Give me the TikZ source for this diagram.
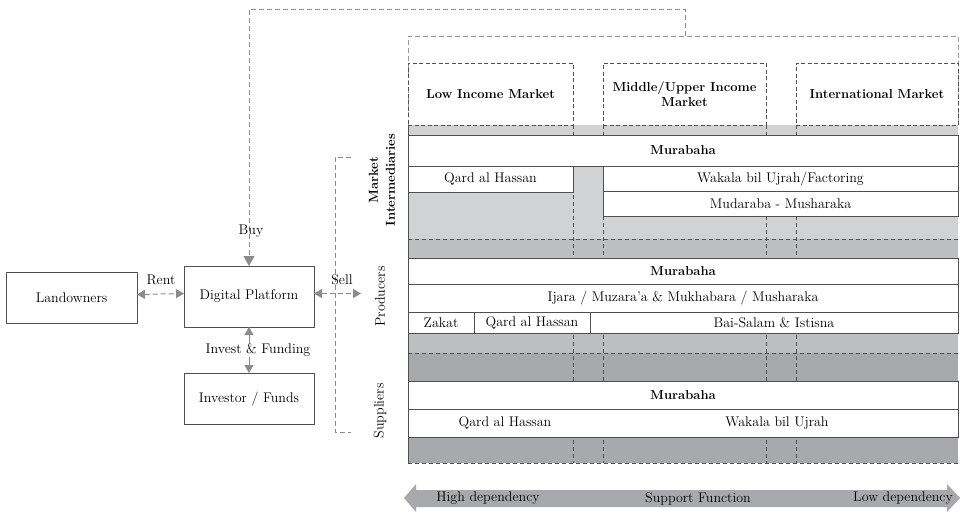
\documentclass[tikz,border=0pt]{standalone}
\usetikzlibrary{arrows.meta}
\definecolor{lineg}{HTML}{8C8C8C}
\definecolor{outerg}{HTML}{9A9A9A}
\definecolor{dark}{HTML}{505050}
\definecolor{bandA}{HTML}{D1D2D4}
\definecolor{bandB}{HTML}{BCBEC0}
\definecolor{bandC}{HTML}{A7A9AC}
\begin{document}
\begin{tikzpicture}[x=1pt,y=-1pt,
  font=\fontsize{14}{16}\selectfont,
  boldtxt/.style={font=\fontsize{13}{15}\selectfont\bfseries},
  rowbox/.style={draw=dark,line width=0.9pt,fill=white,inner sep=0pt,outer sep=0pt},
  plainbox/.style={draw=dark,line width=0.9pt,fill=white,inner sep=0pt,outer sep=0pt},
  hdrbox/.style={draw=dark,line width=0.9pt,dash pattern=on 4pt off 2.5pt,inner sep=0pt,outer sep=0pt,align=center,font=\fontsize{13}{15}\selectfont\bfseries},
  coldash/.style={draw=dark,line width=0.7pt,dash pattern=on 4pt off 3pt},
  conn/.style={draw=lineg,line width=1pt,dash pattern=on 5pt off 3pt},
  connsolid/.style={draw=lineg,line width=1pt},
  lbl/.style={inner sep=1pt},
  sidelbl/.style={rotate=90,align=center,inner sep=0pt}]
\useasboundingbox (0,0) rectangle (961,512);

% bands
\fill[bandA] (408,125) rectangle (958,239);
\fill[bandB] (408,239) rectangle (958,353);
\fill[bandC] (408,353) rectangle (958,463);

% column dashed lines
\foreach \cx in {573,603,766,796} {\draw[coldash] (\cx,125) -- (\cx,463);}
\draw[coldash] (408,239) -- (958,239);
\draw[coldash] (408,353) -- (958,353);
\draw[coldash] (408,463) -- (958,463);
\draw[dark,line width=0.9pt] (408,125) -- (408,463);

% outer dashed box
\draw[draw=outerg,line width=0.9pt,dash pattern=on 5pt off 3pt] (408,125) -- (408,36) -- (958,36) -- (958,125);
\coordinate (topjoin) at (685,36);

% headers
\node[hdrbox,minimum width=165pt,minimum height=62pt] (hlow) at (490.5,94) {Low Income Market};
\node[hdrbox,minimum width=163pt,minimum height=62pt] (hmid) at (684.5,94) {Middle/Upper Income\\Market};
\node[hdrbox,minimum width=162pt,minimum height=62pt] (hint) at (877,94) {International Market};

% Market intermediaries rows
\node[rowbox,boldtxt,minimum width=550pt,minimum height=31pt] (mi1) at (683,150.5) {Murabaha};
\node[rowbox,minimum width=165pt,minimum height=26pt] (mi2) at (490.5,179) {Qard al Hassan};
\node[rowbox,minimum width=355pt,minimum height=25pt] (mi3) at (780.5,178.5) {Wakala bil Ujrah/Factoring};
\node[rowbox,minimum width=355pt,minimum height=25pt] (mi4) at (780.5,203.5) {Mudaraba - Musharaka};

% Producers rows
\node[rowbox,boldtxt,minimum width=550pt,minimum height=26pt] (pr1) at (683,271) {Murabaha};
\node[rowbox,minimum width=550pt,minimum height=28pt] (pr2) at (683,298) {Ijara / Muzara'a \& Mukhabara / Musharaka};
\node[rowbox,minimum width=66pt,minimum height=21pt] (pr3) at (441,322.5) {Zakat};
\node[rowbox,minimum width=116pt,minimum height=21pt] (pr4) at (532,322.5) {Qard al Hassan};
\node[rowbox,minimum width=368pt,minimum height=21pt] (pr5) at (774,322.5) {Bai-Salam \& Istisna};

% Suppliers rows
\node[rowbox,boldtxt,minimum width=550pt,minimum height=28pt] (su1) at (683,395) {Murabaha};
\node[rowbox,minimum width=550pt,minimum height=28pt] (su2) at (683,423) {};
\node[lbl] (su2a) at (505,423) {Qard al Hassan};
\node[lbl] (su2b) at (777,423) {Wakala bil Ujrah};

% side labels
\node[sidelbl,font=\fontsize{13}{17}\selectfont\bfseries] (lmi) at (382,180) {Market\\Intermediaries};
\node[sidelbl] (lpr) at (380,296.5) {Producers};
\node[sidelbl] (lsu) at (380,411) {Suppliers};

% left side nodes
\node[plainbox,minimum width=131pt,minimum height=51pt] (land) at (71.5,297.5) {Landowners};
\node[plainbox,minimum width=130pt,minimum height=61pt] (dp) at (249,296.5) {Digital Platform};
\node[plainbox,minimum width=130pt,minimum height=51pt] (inv) at (249,398.5) {Investor / Funds};

% connectors
\draw[conn,-{Triangle[length=10pt,width=11pt]}] (topjoin) -- (685,9) -| (dp.north);
\node[lbl] (buy) at (251,231) {Buy};

\draw[conn,{Triangle[length=8pt,width=9pt]}-{Triangle[length=8pt,width=9pt]}] ([yshift=3pt]land.east) -- ([yshift=3pt]dp.west);
\node[lbl] (rent) at (161,280) {Rent};

\coordinate (brtop) at (351,157);
\coordinate (brbot) at (351,432);
\draw[conn] (brtop) -- (335,157) -- (335,432) -- (brbot);
\coordinate (sellend) at (361,293.5);
\draw[conn,{Triangle[length=8pt,width=9pt]}-{Triangle[length=8pt,width=9pt]}] ([yshift=3pt]dp.east) -- (sellend);
\node[lbl] (sell) at (342,280) {Sell};

\draw[connsolid,{Triangle[length=8pt,width=9pt]}-{Triangle[length=8pt,width=9pt]}] (dp.south) -- (inv.north);
\node[lbl,fill=white] (invest) at (258,350) {Invest \& Funding};

% bottom arrow
\fill[bandC] (404,498) -- (416,484) -- (416,490) -- (947,490) -- (947,484) -- (960,498) -- (947,512) -- (947,507) -- (416,507) -- (416,512) -- cycle;
\node[lbl] (high) at (488,498.5) {High dependency};
\node[lbl] (supp) at (698,498.5) {Support Function};
\node[lbl] (low) at (903,498.5) {Low dependency};
\end{tikzpicture}
\end{document}
